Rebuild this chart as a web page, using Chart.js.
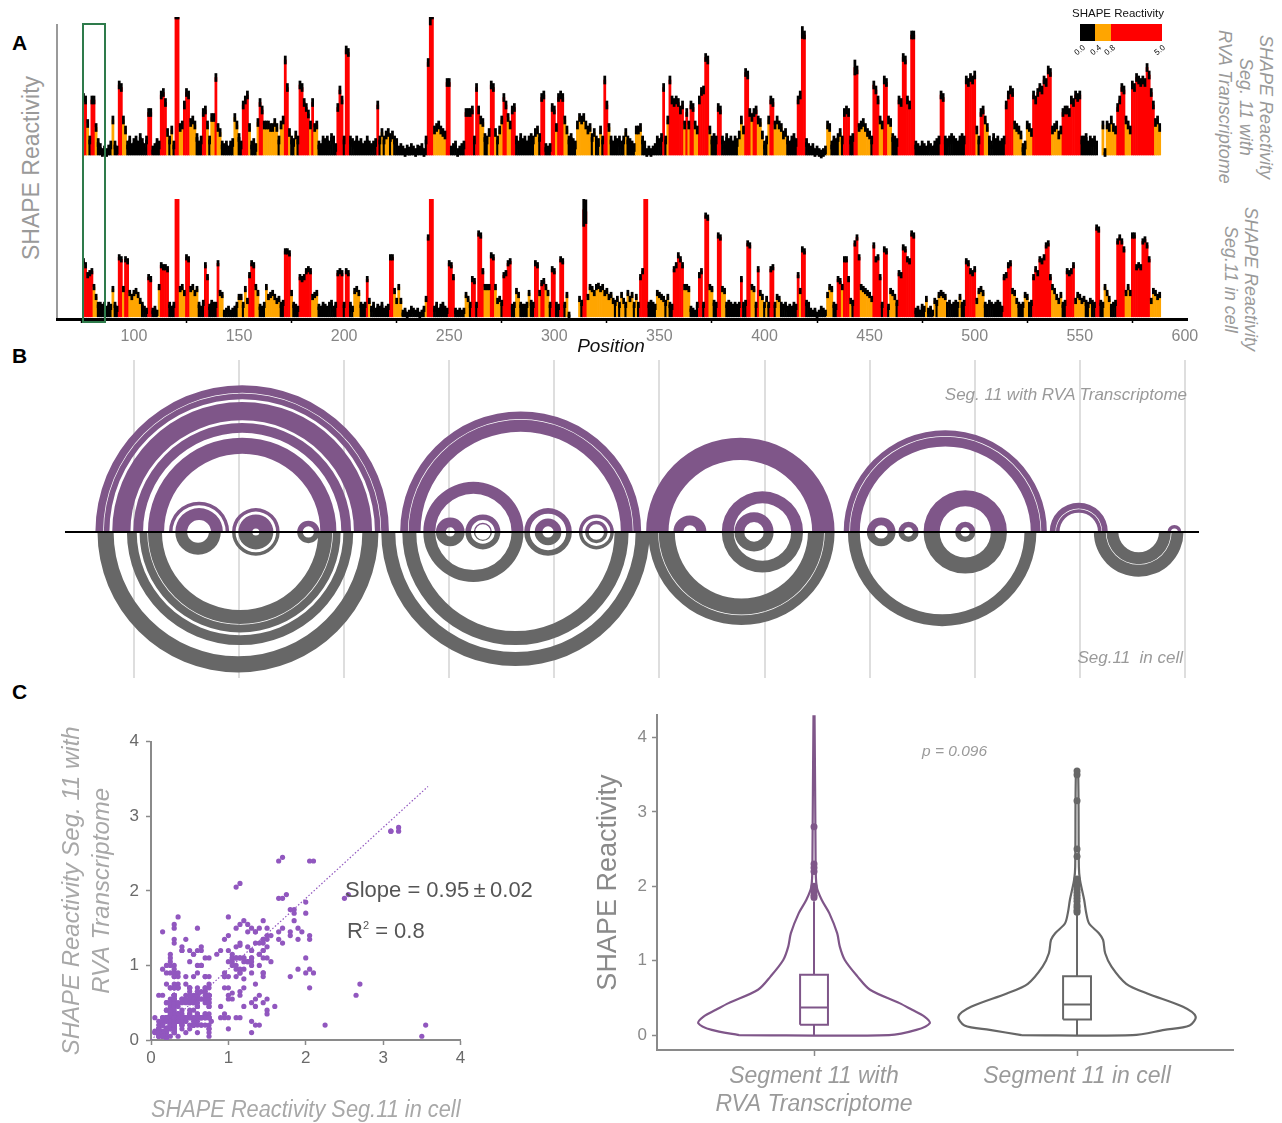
<!DOCTYPE html>
<html>
<head>
<meta charset="utf-8">
<script src="https://cdn.jsdelivr.net/npm/chart.js@4.4.0/dist/chart.umd.min.js"></script>
<style>
  body { margin: 0; background: #fff; width: 1282px; height: 1123px; position: relative; overflow: hidden;
         font-family: "Liberation Sans", Arial, Helvetica, sans-serif; }
  canvas { position: absolute; }
  .t { position: absolute; white-space: nowrap; line-height: 1; }
  .rot { position: absolute; white-space: nowrap; line-height: 1; transform: translate(-50%, -50%) rotate(-90deg); }
  .vert { position: absolute; writing-mode: vertical-rl; white-space: nowrap; text-align: center; font-style: italic;
          color: #9a9a9a; font-size: 18px; line-height: 20.5px; }
  .lbl { position: absolute; font-size: 8px; transform: rotate(-40deg); transform-origin: right top; }
</style>
</head>
<body>

<!-- panel letters -->
<div class="t" style="left:12px;top:32px;font-weight:bold;font-size:21px">A</div>
<div class="t" style="left:12px;top:345px;font-weight:bold;font-size:21px">B</div>
<div class="t" style="left:12px;top:681px;font-weight:bold;font-size:21px">C</div>

<!-- ===== A ===== -->
<div class="rot" style="left:31px;top:168px;font-size:23px;color:#9a9a9a">SHAPE Reactivity</div>
<div style="position:absolute;left:56px;top:24px;width:2px;height:297px;background:#9a9a9a"></div>
<canvas id="a1" width="1130" height="142" style="left:57px;top:17px"></canvas>
<canvas id="a2" width="1170" height="166" style="left:37px;top:199px"></canvas>
<div style="position:absolute;left:82px;top:23px;width:20px;height:296px;border:2px solid #2e7b4b"></div>
<div class="t" style="left:611px;top:345px;transform:translate(-50%,-50%);font-size:19px;font-style:italic;color:#111">Position</div>

<div class="vert" style="left:1214px;top:30px;width:62px;height:154px">SHAPE Reactivity<br>Seg. 11 with<br>RVA Transcriptome</div>
<div class="vert" style="left:1220px;top:206px;width:41px;height:146px">SHAPE Reactivity<br>Seg.11 in cell</div>

<!-- colour key -->
<div class="t" style="left:1072px;top:8px;font-size:11.5px;color:#111">SHAPE Reactivity</div>
<div style="position:absolute;left:1080px;top:24px;width:15px;height:17px;background:#000"></div>
<div style="position:absolute;left:1095px;top:24px;width:16px;height:17px;background:#ffa500"></div>
<div style="position:absolute;left:1111px;top:24px;width:51px;height:17px;background:#ff0000"></div>
<div class="lbl" style="left:1070px;top:43px">0.0</div>
<div class="lbl" style="left:1086px;top:43px">0.4</div>
<div class="lbl" style="left:1100px;top:43px">0.8</div>
<div class="lbl" style="left:1150px;top:43px">5.0</div>

<!-- ===== B ===== -->
<canvas id="b" width="1182" height="318" style="left:37px;top:360px"></canvas>
<div class="t" style="right:95px;top:386px;font-size:17px;font-style:italic;color:#9a9a9a">Seg. 11 with RVA Transcriptome</div>
<div class="t" style="right:99px;top:649px;font-size:17px;font-style:italic;color:#9a9a9a">Seg.11&nbsp; in cell</div>

<!-- ===== C ===== -->
<canvas id="sc" width="433" height="405" style="left:57px;top:720px"></canvas>
<div class="t" style="left:345px;top:879px;font-size:22px;color:#555">Slope = 0.95&#8201;±&#8201;0.02</div>
<div class="t" style="left:347px;top:920px;font-size:22px;color:#555">R<sup style="font-size:11px;vertical-align:top">2</sup> = 0.8</div>
<canvas id="vi" width="660" height="420" style="left:590px;top:700px"></canvas>
<div class="t" style="left:922px;top:743px;font-size:15.5px;font-style:italic;color:#9a9a9a">p = 0.096</div>

<script>
// ================= DATA =================
// SHAPE reactivity per nucleotide, positions 76..588 (null = no data)
const firstPos = 76;

const rvaVals = [ // Seg. 11 with RVA transcriptome
  1.15,1.1,0.63,0.3,1.1,1.1,0.55,0.25,0.15,0.05,
  0.1,0.05,0.12,0.2,0.7,0.2,0.1,1.4,1.35,0.7,
  0.5,0.2,0.3,0.15,0.25,0.3,0.2,0.35,0.25,0.15,
  0.3,0.85,0.85,0.1,0.15,0.25,0.2,1.2,1.25,1.05,
  0.45,0.3,0.5,0.2,2.8,2.8,0.55,0.6,1.0,1.25,
  1.2,0.65,0.7,0.6,0.35,0.2,0.3,0.85,0.9,0.6,
  0.3,0.75,0.75,1.55,0.55,0.45,0.2,0.15,0.2,0.1,
  0.2,0.25,0.75,0.6,0.35,0.2,1.0,1.1,1.2,0.55,
  0.2,0.25,0.15,0.65,1.05,0.9,0.6,0.6,0.6,0.55,
  0.55,0.65,0.55,0.3,0.6,0.7,1.9,1.35,0.45,0.3,
  0.25,0.4,0.3,1.4,1.35,1.05,0.95,0.82,0.6,1.05,
  0.55,0.6,0.2,0.15,0.3,0.25,0.3,0.2,0.35,0.3,
  0.15,0.95,1.3,1.1,0.3,2.1,2.05,0.3,0.25,0.2,
  0.3,0.2,0.25,0.15,0.2,0.3,0.2,0.15,0.2,0.25,
  1.0,0.3,0.45,0.3,0.4,0.45,0.35,0.4,0.3,0.25,
  0.1,0.15,0.1,0.05,0.12,0.08,0.15,0.1,0.05,0.12,
  0.1,0.15,0.05,0.3,1.85,2.85,2.8,0.5,0.55,0.6,
  0.5,0.45,0.4,1.45,1.45,0.1,0.15,0.2,0.05,0.1,
  0.15,0.2,0.85,0.85,0.85,0.9,0.3,1.35,0.9,0.7,
  0.65,0.35,0.3,0.45,1.4,1.35,0.45,0.3,0.5,0.7,
  1.15,1.0,0.75,0.6,0.9,0.95,0.3,0.2,0.35,0.25,
  0.3,0.2,0.3,0.35,0.3,0.45,0.5,0.35,1.15,1.2,
  0.15,0.1,0.15,0.95,0.9,0.55,1.15,1.2,1.15,0.7,
  0.5,0.3,0.35,0.25,0.2,0.6,0.75,0.7,0.75,0.6,
  0.5,0.55,0.35,0.45,0.3,0.25,0.5,0.3,1.5,1.0,
  0.55,0.3,0.2,0.3,0.25,0.3,0.2,0.3,0.45,0.3,
  0.25,0.2,0.15,0.5,0.5,0.55,0.3,0.2,0.05,0.1,
  0.05,0.1,0.15,0.3,0.25,0.35,1.35,0.3,0.7,1.5,
  1.1,1.05,1.1,1.05,0.9,1.0,0.6,0.85,0.6,1.0,
  0.95,0.6,0.5,1.1,1.27,1.3,1.95,1.9,0.5,0.3,
  0.35,0.3,0.95,0.9,0.3,0.2,0.35,0.25,0.3,0.2,
  0.3,0.25,0.4,0.7,0.5,1.65,1.6,0.85,0.75,0.85,
  0.9,0.7,0.65,0.4,0.2,0.3,0.7,1.1,1.05,0.6,
  0.7,0.6,0.55,0.4,0.45,0.3,0.2,0.3,0.35,0.25,
  1.1,1.2,2.45,2.4,0.25,0.15,0.1,0.15,0.05,0.1,
  0.05,0.02,0.05,0.1,0.6,0.55,0.2,0.3,0.25,0.35,
  0.45,0.3,0.85,0.9,0.85,0.3,0.35,1.75,1.7,0.55,
  0.6,0.65,0.55,0.45,0.4,0.3,1.4,1.3,1.1,0.7,
  0.6,1.5,1.45,0.7,0.65,0.35,0.3,0.25,1.1,1.05,
  1.95,1.9,1.1,1.0,2.4,2.4,0.2,0.15,0.1,0.2,
  0.15,0.1,0.2,0.15,0.1,0.2,0.25,0.3,1.2,1.15,
  0.3,0.25,0.3,0.35,0.3,0.25,0.2,0.3,0.35,0.3,
  1.5,1.45,1.55,1.5,1.6,0.5,0.3,0.85,0.9,0.7,
  0.55,0.3,0.2,0.35,0.25,0.3,0.2,0.25,0.3,1.0,
  1.2,1.3,1.25,0.6,0.55,0.5,0.4,0.15,0.2,0.6,
  0.55,0.45,1.2,1.1,1.25,1.35,1.3,1.5,1.45,1.7,
  1.65,0.5,0.55,0.6,0.4,0.5,0.85,0.9,0.9,0.85,
  1.1,1.05,1.2,1.15,1.2,0.3,0.3,0.35,0.2,0.3,
  0.25,0.3,0.2,null,null,0.6,0.05,0.6,0.55,0.7,
  0.55,0.5,0.95,1.1,1.35,1.3,0.7,0.6,0.5,1.4,
  1.35,1.55,1.5,1.45,1.5,1.45,1.75,1.6,1.25,1.0,
  0.65,0.7,0.55
];

const cellVals = [ // Seg. 11 in cell
  1.4,1.3,1.05,1.1,1.15,0.75,0.5,0.3,0.3,0.25,
  0.3,0.2,0.3,0.25,0.7,0.3,0.2,1.5,1.45,0.7,
  1.45,1.4,0.6,0.5,0.6,0.65,0.55,0.4,0.3,0.2,
  0.15,1.0,0.95,0.15,0.2,0.1,0.75,1.3,1.25,1.25,
  1.2,0.3,0.2,0.3,3.1,3.1,0.7,0.75,0.6,1.5,
  1.45,0.7,0.75,0.6,0.7,0.3,0.2,0.35,1.3,1.0,
  0.25,0.35,0.3,0.3,1.35,0.6,0.55,0.1,0.15,0.2,
  0.1,0.15,0.2,0.3,0.5,0.5,0.3,0.7,0.4,1.05,
  1.35,1.3,0.75,0.6,0.25,0.2,0.3,0.75,0.5,0.55,
  0.6,0.5,0.4,0.45,0.3,0.35,1.65,1.65,1.6,0.6,
  0.3,0.25,0.2,1.0,0.95,1.0,1.15,1.2,1.15,0.5,
  0.55,0.6,0.25,0.2,0.3,0.25,0.2,0.3,0.35,0.2,
  0.3,1.1,1.15,1.1,0.3,1.15,1.1,0.3,0.2,0.65,
  0.7,0.6,0.3,0.25,0.3,0.95,0.4,0.2,0.3,0.15,
  0.25,0.2,0.3,0.15,0.2,0.25,1.5,1.5,0.65,0.4,
  0.75,0.4,0.1,0.15,0.05,0.1,0.2,0.15,0.1,0.15,
  0.05,0.1,0.2,0.45,2.0,3.2,3.2,0.2,0.3,0.15,
  0.25,0.3,0.2,0.15,1.35,1.3,1.0,0.15,0.1,0.15,
  0.1,0.15,0.55,0.45,0.3,0.95,0.9,0.3,2.1,2.05,
  1.15,0.75,0.75,0.75,1.55,1.5,0.75,0.4,0.45,0.35,
  1.05,1.1,1.35,1.4,0.25,0.3,0.65,0.55,0.3,0.25,
  0.25,0.3,0.6,0.35,0.3,1.35,1.3,0.6,0.85,0.9,
  0.75,0.6,0.3,1.2,1.15,0.3,0.25,1.45,1.4,0.3,
  0.55,0.05,null,null,null,null,0.45,0.35,2.7,2.65,
  0.5,0.75,0.7,0.6,0.75,0.78,0.7,0.75,0.6,0.65,
  0.5,0.55,0.4,0.35,0.45,0.3,0.55,0.4,0.3,0.6,
  0.45,0.55,0.3,0.5,0.3,1.0,1.15,3.55,3.5,0.3,
  0.35,0.3,0.25,0.6,0.55,0.5,0.45,0.35,0.5,0.3,
  0.25,1.2,1.3,1.55,1.45,1.3,0.75,0.75,0.7,0.2,
  0.15,0.1,0.3,1.05,1.15,0.3,2.55,2.5,0.75,0.7,
  0.35,0.3,2.05,2.0,0.7,0.65,0.3,0.35,0.3,0.25,
  0.3,0.25,0.3,0.95,0.3,0.35,1.85,1.8,0.75,0.7,
  0.3,1.2,0.6,0.5,0.3,0.45,0.3,1.2,1.25,0.3,
  0.5,0.45,0.3,0.25,0.3,0.2,0.25,0.2,0.3,0.25,
  1.05,0.65,1.7,1.65,0.35,0.3,0.15,0.1,0.15,0.05,
  0.1,0.2,0.15,0.1,0.55,0.75,0.7,0.3,0.25,0.95,
  0.9,0.75,1.45,1.45,0.95,0.4,0.35,1.85,2.0,1.5,
  0.75,0.7,0.65,0.6,0.55,0.45,1.8,1.45,1.5,1.0,
  0.3,1.7,1.65,0.25,0.65,0.6,0.5,0.35,1.1,1.05,
  1.75,1.7,1.45,1.4,2.1,2.05,0.15,0.2,0.1,0.25,
  0.2,0.45,0.15,0.2,0.1,0.4,0.35,0.55,0.6,0.55,
  0.5,0.3,0.35,0.25,0.3,0.35,0.3,0.5,0.3,0.35,
  1.4,1.35,1.15,1.1,1.2,0.4,0.65,0.7,0.6,0.3,
  0.25,0.35,0.3,0.25,0.3,0.35,0.3,0.2,1.0,1.05,
  1.3,1.35,0.65,0.6,0.4,0.3,0.25,0.3,0.55,0.5,
  0.3,0.35,1.0,1.2,1.1,1.45,1.4,1.5,1.8,1.85,
  1.0,0.75,0.65,0.5,0.4,0.55,0.3,0.35,1.15,1.1,
  1.15,1.3,0.4,0.55,0.5,0.4,0.45,0.35,0.3,0.4,
  0.35,0.3,2.25,2.2,0.35,0.3,0.75,0.6,0.45,0.25,
  0.3,0.35,1.9,2.0,1.9,1.7,0.6,0.75,0.6,2.05,
  2.05,1.25,1.3,1.25,1.9,1.95,1.8,1.45,0.4,0.65,
  0.6,0.5,0.55
];

// error bar half length (typical) and the few long ones
const rvaErr = 0.08;
const cellErr = 0.07;
const rvaErrLong = { 241: 0.25, 418: 0.12, 443: 0.15 };
const cellErrLong = { 314: 0.42, 315: 0.3, 343: 0.3 };

const positionTicks = [100, 150, 200, 250, 300, 350, 400, 450, 500, 550, 600];

// secondary structure helices [i, j, length]: pairs (i+k, j-k)
const rvaHelices = [
  [82, 221, 4], [86, 217, 3], [90, 213, 9], [100, 203, 5], [107, 196, 8],
  [117, 145, 2], [120, 142, 6], [147, 169, 2], [150, 166, 7], [178, 188, 3],
  [227, 341, 4], [231, 337, 6], [238, 285, 6], [244, 257, 5], [258, 274, 3], [262, 270, 1],
  [286, 308, 3], [291, 303, 4], [312, 328, 2], [315, 325, 2],
  [344, 433, 11], [357, 372, 5], [380, 418, 6], [386, 404, 5],
  [438, 534, 3], [441, 531, 5], [449, 462, 4], [464, 473, 3], [476, 515, 8], [491, 500, 3],
  [536, 563, 3], [539, 560, 2], [592, 598, 2]
];
const cellHelices = [
  [83, 216, 8], [97, 204, 5], [103, 198, 4], [107, 194, 7],
  [120, 141, 6], [147, 169, 2], [150, 166, 7], [178, 188, 3],
  [218, 345, 7], [228, 335, 7], [238, 285, 6], [244, 257, 5], [258, 274, 3], [262, 270, 1],
  [286, 308, 3], [291, 303, 4], [312, 328, 2], [315, 325, 2],
  [345, 433, 5], [350, 428, 8], [380, 418, 6], [386, 404, 5],
  [440, 529, 6], [449, 462, 4], [464, 473, 3], [476, 515, 8], [491, 500, 3],
  [557, 599, 6], [563, 593, 6]
];

// linear fit of the scatter
const fitX = [0, 3.58];
const fitY = [0, 3.4];

// violin outlines: reactivity level and half width (in category units)
const rvaLevels = [0, 0.07, 0.16, 0.25, 0.34, 0.43, 0.61, 0.79, 1.01, 1.19, 1.37, 1.64, 1.82, 2.0, 2.36, 4.3];
const rvaWidths = [0.285, 0.389, 0.44, 0.42, 0.373, 0.325, 0.213, 0.165, 0.117, 0.098, 0.088, 0.058, 0.029, 0.01, 0.006, 0.002];
const cellLevels = [0, 0.07, 0.13, 0.25, 0.38, 0.56, 0.69, 0.92, 1.1, 1.28, 1.37, 1.5, 1.64, 1.82, 2.09, 2.26, 3.56];
const cellWidths = [0.211, 0.332, 0.428, 0.451, 0.403, 0.267, 0.187, 0.131, 0.107, 0.099, 0.083, 0.046, 0.035, 0.027, 0.011, 0.007, 0.004];

// box plots: [whisker low, q1, median, q3, whisker high]
const rvaBox = [0, 0.14, 0.37, 0.81, 1.8];
const cellBox = [0, 0.21, 0.41, 0.79, 1.65];
const rvaOutliers = [1.85, 1.88, 1.92, 1.95, 2.0, 2.2, 2.25, 2.3, 2.8];
const cellOutliers = [1.65, 1.68, 1.72, 1.75, 1.8, 1.84, 1.88, 1.92, 1.96, 2.0, 2.05, 2.1, 2.4, 2.5, 3.15, 3.5, 3.55];

// ================= SETUP =================
const FONT = '"Liberation Sans", Arial, Helvetica, sans-serif';
Chart.defaults.font.family = FONT;
Chart.defaults.animation = false;
Chart.defaults.responsive = false;
Chart.defaults.events = [];
Chart.defaults.plugins.legend.display = false;
Chart.defaults.plugins.tooltip.enabled = false;

const PURPLE = "#7f5689";
const DOT = "#9157bf";
const GREY = "#676767";

const positions = rvaVals.map((_, k) => firstPos + k);

function barColor(v) {
  if (v < 0.4) return "#000000";
  if (v < 0.8) return "#ffa500";
  return "#ff0000";
}

function barPoints(vals) {
  return vals.map((v, k) => v === null ? null : { x: positions[k], y: v }).filter(Boolean);
}

function errPoints(vals, half, longOnes) {
  return vals.map((v, k) => {
    if (v === null) return null;
    const h = longOnes[positions[k]] || half;
    return { x: positions[k], y: [v - h, v + h] };
  }).filter(Boolean);
}

function fixTicks(values) {
  return scale => { scale.ticks = values.map(v => ({ value: v })); };
}

// ================= PANEL A =================
function reactivityDatasets(vals, half, longOnes) {
  return [
    {
      data: errPoints(vals, half, longOnes),
      backgroundColor: "#000",
      grouped: false, barPercentage: 1, categoryPercentage: 1
    },
    {
      data: barPoints(vals),
      backgroundColor: c => c.raw ? barColor(c.raw.y) : "#000",
      grouped: false, barPercentage: 1, categoryPercentage: 1
    }
  ];
}

new Chart(document.getElementById("a1"), {
  type: "bar",
  data: { datasets: reactivityDatasets(rvaVals, rvaErr, rvaErrLong) },
  options: {
    layout: { padding: 0 },
    scales: {
      x: { type: "linear", min: 63.4, max: 601, offset: false, display: false },
      y: { min: -0.08, max: 2.76, display: false }
    }
  }
});

new Chart(document.getElementById("a2"), {
  type: "bar",
  data: { datasets: reactivityDatasets(cellVals, cellErr, cellErrLong) },
  options: {
    layout: { padding: { left: 20, right: 20, top: 0, bottom: 0 } },
    scales: {
      x: {
        type: "linear", min: 63.4, max: 601, offset: false,
        afterBuildTicks: fixTicks(positionTicks),
        afterFit: s => { s.height = 46; },
        border: { display: true, color: "#000", width: 3 },
        grid: { drawOnChartArea: false, drawTicks: true, tickLength: 4, color: "#000", tickWidth: 1.5 },
        ticks: { color: "#858585", font: { size: 16 }, padding: 4, autoSkip: false, maxRotation: 0 }
      },
      y: { min: -0.055, max: 2.97, display: false }
    }
  }
});

// ================= PANEL B =================
const arcPlugin = {
  id: "arcs",
  beforeDatasetsDraw(chart) {
    const { ctx, scales: { x, y } } = chart;
    const unit = x.getPixelForValue(1) - x.getPixelForValue(0);
    const cy = y.getPixelForValue(0);
    const draw = (list, color, up) => {
      ctx.fillStyle = color;
      list.forEach(([i, j, n]) => {
        const cx = x.getPixelForValue((i + j) / 2);
        const rOut = ((j - i) / 2 + 0.5) * unit - 0.35;
        const rIn = Math.max(((j - i) / 2 - (n - 1) - 0.5) * unit + 0.35, 0.5);
        ctx.beginPath();
        if (up) {
          ctx.arc(cx, cy, rOut, Math.PI, 2 * Math.PI);
          ctx.arc(cx, cy, rIn, 2 * Math.PI, Math.PI, true);
        } else {
          ctx.arc(cx, cy, rOut, 0, Math.PI);
          ctx.arc(cx, cy, rIn, Math.PI, 0, true);
        }
        ctx.closePath();
        ctx.fill();
      });
    };
    ctx.save();
    draw(rvaHelices, PURPLE, true);
    draw(cellHelices, GREY, false);
    ctx.restore();
  }
};

new Chart(document.getElementById("b"), {
  type: "line",
  data: {
    datasets: [{
      data: [{ x: 67.2, y: 0 }, { x: 606.7, y: 0 }],
      borderColor: "#000", borderWidth: 2, pointRadius: 0
    }]
  },
  options: {
    layout: { padding: { left: 20, right: 20, top: 0, bottom: 0 } },
    scales: {
      x: {
        type: "linear", min: 63.4, max: 606.7,
        afterBuildTicks: fixTicks(positionTicks),
        afterFit: s => { s.height = 0; },
        border: { display: false },
        grid: { color: "#dedede", lineWidth: 2, drawTicks: false },
        ticks: { display: false }
      },
      y: { min: -69.5, max: 81.8, display: false }
    }
  },
  plugins: [arcPlugin]
});

// ================= PANEL C: scatter =================
const scatterPts = positions.map((p, k) => ({ x: cellVals[k], y: rvaVals[k] }))
  .filter(d => d.x !== null && d.y !== null);

const axisGrey = "#8a8a8a";
new Chart(document.getElementById("sc"), {
  type: "scatter",
  data: {
    datasets: [
      {
        type: "line", data: fitX.map((v, k) => ({ x: v, y: fitY[k] })),
        borderColor: DOT, borderWidth: 1.2, borderDash: [1.5, 2], pointRadius: 0
      },
      { data: scatterPts, backgroundColor: DOT, pointRadius: 2.6, borderWidth: 0 }
    ]
  },
  options: {
    layout: { padding: { top: 21.7, right: 29.5, left: 0, bottom: 0 } },
    scales: {
      x: {
        type: "linear", min: 0, max: 4,
        afterBuildTicks: fixTicks([0, 1, 2, 3, 4]),
        afterFit: s => { s.height = 85; },
        border: { color: axisGrey, width: 2 },
        grid: { drawOnChartArea: false, tickLength: 5, color: axisGrey, tickWidth: 1.5 },
        ticks: { color: "#6a6a6a", font: { size: 17 }, padding: 3 },
        title: {
          display: true, text: "SHAPE Reactivity Seg.11 in cell", color: "#a8a8a8",
          font: { size: 23, style: "italic" }, padding: { top: 0, bottom: 1 }
        }
      },
      y: {
        min: 0, max: 4,
        afterBuildTicks: fixTicks([0, 1, 2, 3, 4]),
        afterFit: s => { s.width = 94; },
        border: { color: axisGrey, width: 2 },
        grid: { drawOnChartArea: false, tickLength: 5, color: axisGrey, tickWidth: 1.5 },
        ticks: { color: "#6a6a6a", font: { size: 17 }, padding: 7 },
        title: {
          display: true, text: ["SHAPE Reactivity Seg. 11 with", "RVA Transcriptome"], color: "#a8a8a8",
          font: { size: 24, style: "italic", lineHeight: 1.25 }, padding: { top: 0, bottom: 0 }
        }
      }
    }
  }
});

// ================= PANEL C: violins =================
function violinOutline(c, levels, widths) {
  const left = levels.map((y, k) => ({ x: c - widths[k], y }));
  const right = levels.map((y, k) => ({ x: c + widths[k], y })).reverse();
  return [...left, ...right, left[0]];
}

function boxDatasets(c, box, half, color) {
  const [lo, q1, med, q3, hi] = box;
  const line = { borderColor: color, borderWidth: 2, pointRadius: 0, tension: 0 };
  return [
    { ...line, data: [{ x: c - half, y: q1 }, { x: c + half, y: q1 }, { x: c + half, y: q3 }, { x: c - half, y: q3 }, { x: c - half, y: q1 }] },
    { ...line, data: [{ x: c - half, y: med }, { x: c + half, y: med }] },
    { ...line, data: [{ x: c, y: lo }, { x: c, y: q1 }, { x: c, y: null }, { x: c, y: q3 }, { x: c, y: hi }], spanGaps: false }
  ];
}

function violinDatasets(c, levels, widths, box, outliers, color) {
  return [
    { data: violinOutline(c, levels, widths), borderColor: color, borderWidth: 2.2, pointRadius: 0, tension: 0.3 },
    ...boxDatasets(c, box, 0.053, color),
    { type: "scatter", data: outliers.map(v => ({ x: c, y: v })), backgroundColor: color, pointRadius: 3.5, borderWidth: 0 }
  ];
}

new Chart(document.getElementById("vi"), {
  type: "line",
  data: {
    datasets: [
      ...violinDatasets(1, rvaLevels, rvaWidths, rvaBox, rvaOutliers, PURPLE),
      ...violinDatasets(2, cellLevels, cellWidths, cellBox, cellOutliers, GREY)
    ]
  },
  options: {
    layout: { padding: { top: 15, right: 17, left: 0, bottom: 0 } },
    scales: {
      x: {
        type: "linear", min: 0.403, max: 2.593,
        afterBuildTicks: fixTicks([1, 2]),
        afterFit: s => { s.height = 70; },
        border: { color: axisGrey, width: 2 },
        grid: { drawOnChartArea: false, tickLength: 6, color: axisGrey, tickWidth: 1.5 },
        ticks: {
          color: "#9a9a9a", font: { size: 23, style: "italic", lineHeight: 1.2 }, padding: 7,
          callback: v => v === 1 ? ["Segment 11 with", "RVA Transcriptome"] : "Segment 11 in cell"
        }
      },
      y: {
        min: -0.2, max: 4.3,
        afterBuildTicks: fixTicks([0, 1, 2, 3, 4]),
        afterFit: s => { s.width = 67; },
        border: { color: axisGrey, width: 2 },
        grid: { drawOnChartArea: false, tickLength: 5, color: axisGrey, tickWidth: 1.5 },
        ticks: { color: "#8a8a8a", font: { size: 17 }, padding: 5 },
        title: {
          display: true, text: "SHAPE Reactivity", color: "#8a8a8a",
          font: { size: 27 }, padding: { top: 2, bottom: 0 }
        }
      }
    }
  }
});
</script>
</body>
</html>
